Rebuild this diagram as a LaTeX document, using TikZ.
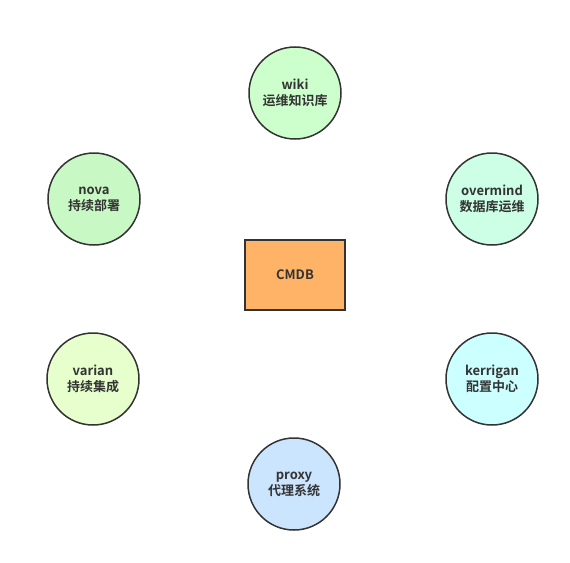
\documentclass[tikz,border=0pt]{standalone}
\usepackage{fontspec}
\setmainfont{Noto Sans CJK SC}[BoldFont={* Bold}]
\usetikzlibrary{positioning}

\definecolor{linegray}{HTML}{333333}
\definecolor{wikigreen}{HTML}{CCFFCC}
\definecolor{novagreen}{HTML}{C8F9C4}
\definecolor{mintgreen}{HTML}{CCFFE6}
\definecolor{lightcyan}{HTML}{CCFFFF}
\definecolor{limegreen}{HTML}{E6FFCC}
\definecolor{lightblue}{HTML}{CCE5FF}
\definecolor{cmdborange}{HTML}{FFB366}

\begin{document}
\begin{tikzpicture}[x=1pt, y=-1pt,
    font=\fontsize{13pt}{16pt}\selectfont\bfseries,
    sysnode/.style={circle, draw=linegray, line width=1.5pt, minimum size=92pt,
        inner sep=0pt, align=center, text=linegray},
    corenode/.style={rectangle, draw=linegray, line width=1.5pt, fill=cmdborange,
        minimum width=100pt, minimum height=70pt, text=linegray}]

    \useasboundingbox (0,0) rectangle (570,562);

    \node[corenode] (cmdb) at (295,275) {CMDB};

    \node[sysnode, fill=wikigreen] (wiki) at (295,93) {wiki\\运维知识库};
    \node[sysnode, fill=novagreen] (nova) at (94,199) {nova\\持续部署};
    \node[sysnode, fill=mintgreen] (overmind) at (492,199) {overmind\\数据库运维};
    \node[sysnode, fill=limegreen] (varian) at (93,379) {varian\\持续集成};
    \node[sysnode, fill=lightcyan] (kerrigan) at (492,379) {kerrigan\\配置中心};
    \node[sysnode, fill=lightblue] (proxy) at (294,484) {proxy\\代理系统};

\end{tikzpicture}
\end{document}
